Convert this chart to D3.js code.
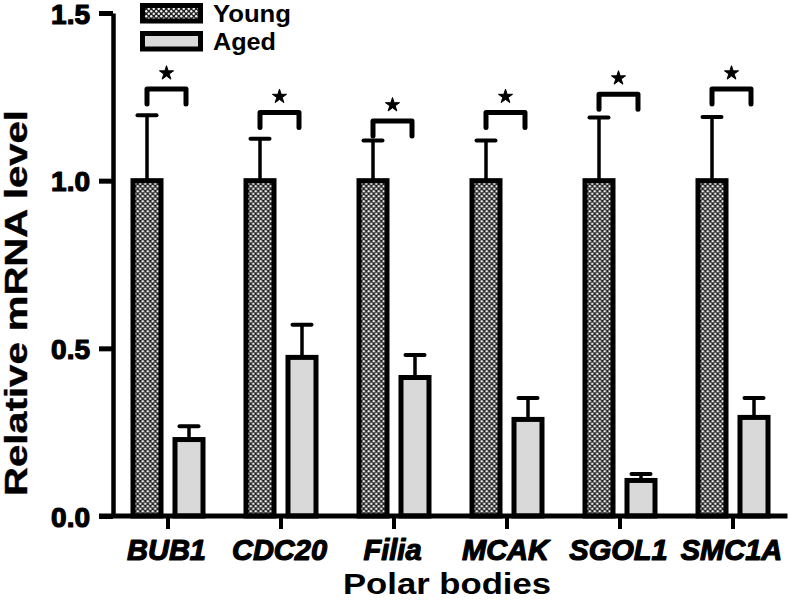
<!DOCTYPE html>
<html>
<head>
<meta charset="utf-8">
<script src="https://cdn.jsdelivr.net/npm/d3@7"></script>
<style>
  html, body { margin: 0; padding: 0; background: #fff; }
  svg { display: block; }
  text { font-family: "Liberation Sans", Arial, Helvetica, sans-serif; }
</style>
</head>
<body>
<div id="chart"></div>
<script>
// ---- data ----
const categories = ["BUB1", "CDC20", "Filia", "MCAK", "SGOL1", "SMC1A"];
const series = ["Young", "Aged"];
const youngMean = [1.0, 1.0, 1.0, 1.0, 1.0, 1.0];
const youngErr  = [0.195, 0.125, 0.12, 0.12, 0.188, 0.19];
const agedMean  = [0.228, 0.473, 0.413, 0.288, 0.106, 0.294];
const agedErr   = [0.040, 0.097, 0.067, 0.064, 0.019, 0.058];
const bracketLevel = [1.273, 1.203, 1.178, 1.203, 1.258, 1.273];
const yTicks = [0, 0.5, 1.0, 1.5];
const yTitle = "Relative mRNA level";
const xTitle = "Polar bodies";

// ---- layout ----
const W = 790, H = 605;
const svg = d3.select("#chart").append("svg").attr("width", W).attr("height", H);

const defs = svg.append("defs");
const pat = defs.append("pattern").attr("id", "dots")
  .attr("patternUnits", "userSpaceOnUse").attr("width", 5).attr("height", 5);
pat.append("rect").attr("width", 5).attr("height", 5).attr("fill", "#222");
pat.append("circle").attr("cx", 1.25).attr("cy", 1.25).attr("r", 1.2).attr("fill", "#f2f2f2");
pat.append("circle").attr("cx", 3.75).attr("cy", 3.75).attr("r", 1.2).attr("fill", "#f2f2f2");

const fills = { Young: "url(#dots)", Aged: "#d9d9d9" };

const axisX = 113;
const y = d3.scaleLinear().domain([0, 1.5]).range([516, 13]);
const x0 = d3.scaleBand().domain(categories).range([111.5, 789.5]).paddingInner(0).paddingOuter(0);
const x1 = d3.scaleBand().domain(series).range([19, 94]).paddingInner(0.214).paddingOuter(0);

const rows = categories.map((c, i) => ({
  cat: c,
  vals: [
    { s: "Young", v: youngMean[i], e: youngErr[i] },
    { s: "Aged",  v: agedMean[i],  e: agedErr[i] }
  ],
  br: bracketLevel[i]
}));

const SW = 5;
const g = svg.append("g");

const grp = g.selectAll("g.grp").data(rows).join("g")
  .attr("class", "grp")
  .attr("transform", d => `translate(${x0(d.cat)},0)`);

// error bars (upper only)
grp.selectAll("g.err").data(d => d.vals).join("g").attr("class", "err").each(function(d) {
  const cx = x1(d.s) + x1.bandwidth() / 2;
  const gg = d3.select(this);
  gg.append("line").attr("x1", cx).attr("x2", cx)
    .attr("y1", y(d.v)).attr("y2", y(d.v + d.e))
    .attr("stroke", "#000").attr("stroke-width", 3.5);
  gg.append("line").attr("x1", cx - 9.5).attr("x2", cx + 9.5)
    .attr("y1", y(d.v + d.e)).attr("y2", y(d.v + d.e))
    .attr("stroke", "#000").attr("stroke-width", 4).attr("stroke-linecap", "round");
});

// bars
grp.selectAll("rect.bar").data(d => d.vals).join("rect").attr("class", "bar")
  .attr("x", d => x1(d.s) + SW / 2)
  .attr("width", x1.bandwidth() - SW)
  .attr("y", d => y(d.v))
  .attr("height", d => y(0) - y(d.v))
  .attr("fill", d => fills[d.s])
  .attr("stroke", "#000").attr("stroke-width", SW);

// significance brackets
grp.each(function(d) {
  const gg = d3.select(this);
  const xl = x1("Young") + x1.bandwidth() / 2;
  const xr = x1("Aged") + x1.bandwidth() / 2 - 3;
  const yt = y(d.br);
  const leg = 15;
  gg.append("path")
    .attr("d", `M${xl},${yt + leg}V${yt}H${xr}V${yt + leg}`)
    .attr("fill", "none").attr("stroke", "#000").attr("stroke-width", 5)
    .attr("stroke-linecap", "round").attr("stroke-linejoin", "round");
  gg.append("path")
    .attr("transform", `translate(${(xl + xr) / 2},${yt - 16})`)
    .attr("d", d3.symbol().type(d3.symbolStar).size(62)())
    .attr("fill", "#000").attr("stroke", "#000").attr("stroke-width", 1).attr("stroke-linejoin", "round");
});

// y axis
const yAxis = svg.append("g").attr("transform", `translate(${axisX},0)`)
  .call(d3.axisLeft(y).tickValues(yTicks).tickSize(14).tickSizeOuter(0)
    .tickPadding(9).tickFormat(d3.format(".1f")));
yAxis.select(".domain").attr("stroke", "#000").attr("stroke-width", 4.5);
yAxis.selectAll(".tick line").attr("stroke", "#000").attr("stroke-width", 5);
yAxis.selectAll(".tick text")
  .attr("fill", "#000").attr("font-size", 28).attr("font-weight", "bold")
  .attr("stroke", "#000").attr("stroke-width", 1.2).attr("stroke-linejoin", "round")
  .attr("dy", "0.36em");

// x axis
const xAxis = svg.append("g").attr("transform", `translate(0,${y(0)})`)
  .call(d3.axisBottom(x0).tickSize(13).tickSizeOuter(0));
xAxis.select(".domain").remove();
xAxis.insert("line", ":first-child")
  .attr("x1", axisX - 14).attr("x2", x0.range()[1] - 2)
  .attr("y1", 0).attr("y2", 0)
  .attr("stroke", "#000").attr("stroke-width", 5);
xAxis.selectAll(".tick line").attr("stroke", "#000").attr("stroke-width", 4);
xAxis.selectAll(".tick text")
  .attr("fill", "#000").attr("font-size", 29).attr("font-weight", "bold")
  .attr("font-style", "italic").attr("y", 44).attr("dy", 0).attr("dx", -1.5)
  .attr("stroke", "#000").attr("stroke-width", 1.2).attr("stroke-linejoin", "round");

// axis titles
svg.append("text")
  .attr("transform", `translate(27,${(110 + 496) / 2}) rotate(-90)`)
  .attr("text-anchor", "middle")
  .attr("font-size", 31).attr("font-weight", "bold")
  .attr("stroke", "#000").attr("stroke-width", 0.4)
  .attr("textLength", 386).attr("lengthAdjust", "spacingAndGlyphs")
  .text(yTitle);

svg.append("text")
  .attr("x", 447).attr("y", 594)
  .attr("text-anchor", "middle")
  .attr("font-size", 30).attr("font-weight", "bold")
  .attr("textLength", 208).attr("lengthAdjust", "spacingAndGlyphs")
  .text(xTitle);

// legend
const legend = svg.append("g").attr("class", "legend");
const legendY = [5.5, 33.5];
const legendW = [78, 63];
series.forEach((s, i) => {
  legend.append("rect")
    .attr("x", 142.5).attr("y", legendY[i]).attr("width", 58).attr("height", 15.5)
    .attr("fill", fills[s]).attr("stroke", "#000").attr("stroke-width", SW);
  legend.append("text")
    .attr("x", 213).attr("y", legendY[i] + 16)
    .attr("font-size", 24).attr("font-weight", "bold")
    .attr("textLength", legendW[i]).attr("lengthAdjust", "spacingAndGlyphs")
    .text(s);
});
</script>
</body>
</html>
